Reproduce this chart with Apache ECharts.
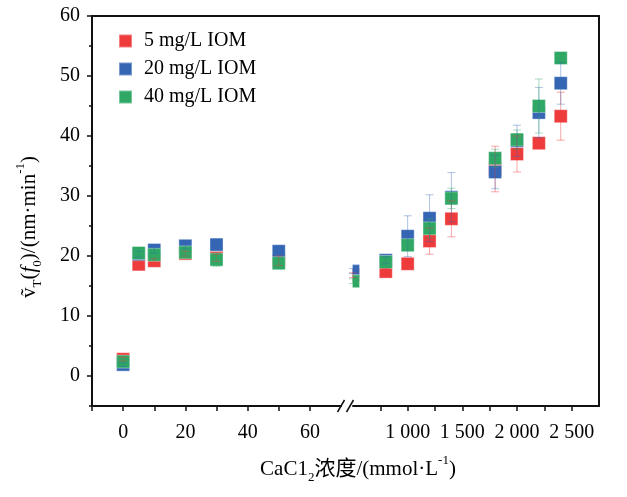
<!DOCTYPE html>
<html>
<head>
<meta charset="utf-8">
<script src="https://cdn.jsdelivr.net/npm/echarts@6.0.0/dist/echarts.min.js"></script>
<style>
  html, body { margin: 0; padding: 0; background: #fff; }
  #chart { width: 627px; height: 497px; }
</style>
</head>
<body>
<div id="chart"></div>
<script>
  // CaCl2 浓度 (mmol/L)，小于 100 的点画在左段，其余画在右段
  const concentration = [0, 5, 10, 20, 30, 50, 500, 800, 1000, 1200, 1400, 1800, 2000, 2200, 2400];
  const seriesNames = ["5 mg/L IOM", "20 mg/L IOM", "40 mg/L IOM"];

  // 速率 (nm/min)
  const rate5 = [2.8, 18.6, 19.2, 20.4, 19.7, 19.2, 16.8, 17.4, 18.7, 22.5, 26.2, 34.5, 37.0, 38.8, 43.3];
  const rate20 = [1.9, 20.3, 21.0, 21.7, 21.9, 20.8, 17.5, 19.3, 23.3, 26.3, 29.8, 34.0, 39.2, 43.9, 48.8];
  const rate40 = [2.4, 20.5, 20.2, 20.6, 19.4, 18.8, 15.8, 19.0, 21.8, 24.6, 29.6, 36.3, 39.4, 45.0, 53.0];

  // 误差 (±)
  const err5 = [0.3, 0.5, 0.4, 0.4, 0.6, 0.8, 0.4, 0.5, 0.5, 2.2, 3.0, 3.8, 3.0, 0.6, 4.0];
  const err20 = [0.3, 0.5, 0.5, 0.5, 0.4, 0.5, 0.4, 0.6, 3.4, 3.9, 4.1, 2.8, 2.6, 4.2, 3.5];
  const err40 = [0.3, 0.4, 0.5, 0.5, 1.1, 0.9, 0.4, 0.6, 0.8, 1.6, 1.7, 1.5, 1.6, 4.5, 0.6];

  // 刻度
  const yLabels = [0, 10, 20, 30, 40, 50, 60];
  const leftTicks = [-10, 0, 10, 20, 30, 40, 50, 60];
  const leftLabels = [0, 20, 40, 60];
  const rightTicks = [750, 1000, 1250, 1500, 1750, 2000, 2250, 2500];
  const rightLabels = [1000, 1500, 2000, 2500];

  const splitValue = 100;
  const colors = ["#EE3B3C", "#3466B4", "#30A865"];
  const errColors = ["rgba(238,59,60,0.45)", "rgba(52,102,180,0.4)", "rgba(48,168,101,0.4)"];
  const fontFamily = "'Liberation Serif', 'Noto Sans CJK SC', serif";

  const rates = [rate5, rate20, rate40];
  const errs = [err5, err20, err40];

  const richStyle = {
    t: { fontSize: 21, lineHeight: 30, verticalAlign: "middle", fontFamily: fontFamily, color: "#000" },
    i: { fontSize: 21, lineHeight: 30, verticalAlign: "middle", fontStyle: "italic", fontFamily: fontFamily, color: "#000" },
    sub: { fontSize: 13, lineHeight: 13, verticalAlign: "bottom", fontFamily: fontFamily, color: "#000" },
    sup: { fontSize: 13, lineHeight: 13, verticalAlign: "top", fontFamily: fontFamily, color: "#000" },
  };

  function fmtThousand(v) {
    return String(v).replace(/(\d)(\d{3})$/, "$1 $2");
  }

  function pointsOf(k, left) {
    const out = [];
    concentration.forEach((c, i) => {
      if ((c < splitValue) === left) out.push([c, rates[k][i], errs[k][i]]);
    });
    return out;
  }

  function errorRender(color) {
    return function (params, api) {
      const x = api.value(0), y = api.value(1), e = api.value(2);
      const top = api.coord([x, y + e]);
      const bot = api.coord([x, y - e]);
      const hw = 4;
      const st = { stroke: color, lineWidth: 1 };
      return {
        type: "group",
        children: [
          { type: "line", shape: { x1: top[0], y1: top[1], x2: bot[0], y2: bot[1] }, style: st },
          { type: "line", shape: { x1: top[0] - hw, y1: top[1], x2: top[0] + hw, y2: top[1] }, style: st },
          { type: "line", shape: { x1: bot[0] - hw, y1: bot[1], x2: bot[0] + hw, y2: bot[1] }, style: st },
        ],
      };
    };
  }

  const axisLineStyle = { color: "#111", width: 2 };
  const labelStyle = { color: "#000", fontSize: 20, fontFamily: fontFamily };

  const series = [];
  [0, 1, 2].forEach((k) => {
    [true, false].forEach((left) => {
      const pts = pointsOf(k, left);
      const minX = left ? -10 : 500;
      series.push({
        name: seriesNames[k],
        type: "scatter",
        xAxisIndex: left ? 2 : 3,
        yAxisIndex: left ? 3 : 4,
        symbol: "rect",
        symbolSize: 13,
        z: 2,
        itemStyle: { color: colors[k], borderColor: "rgba(255,255,255,0.35)", borderWidth: 1, opacity: 1 },
        data: pts.map((p) =>
          p[0] === minX
            ? { value: [p[0], p[1]], symbolSize: [7, 13], symbolOffset: [3, 0] }
            : [p[0], p[1]]
        ),
      });
    });
  });
  [0, 1, 2].forEach((k) => {
    [true, false].forEach((left) => {
      series.push({
        type: "custom",
        xAxisIndex: left ? 2 : 3,
        yAxisIndex: left ? 3 : 4,
        z: 3,
        silent: true,
        renderItem: errorRender(errColors[k]),
        data: pointsOf(k, left),
      });
    });
  });

  const chart = echarts.init(document.getElementById("chart"));
  const option = {
    backgroundColor: "#fff",
    animation: false,
    legend: {
      data: seriesNames,
      orient: "vertical",
      left: 113,
      top: 26,
      icon: "rect",
      itemWidth: 13,
      itemHeight: 13,
      itemGap: 8,
      textStyle: { color: "#000", fontSize: 20, fontFamily: fontFamily, padding: [0, 0, 0, 7] },
    },
    grid: [
      { left: 92, right: 28, top: 16, bottom: 91 }, // 外框
      { left: 92, width: 249, top: 16, bottom: 91 }, // 左段
      { left: 353, right: 28, top: 16, bottom: 91 }, // 右段
    ],
    xAxis: [
      {
        gridIndex: 0, type: "value", position: "top", min: 0, max: 1,
        axisLine: { onZero: false, lineStyle: axisLineStyle }, axisTick: { show: false },
        axisLabel: { show: false }, splitLine: { show: false },
      },
      {
        gridIndex: 0, type: "value", position: "bottom", min: 0, max: 1,
        axisLine: { show: false, onZero: false }, axisTick: { show: false },
        axisLabel: { show: false }, splitLine: { show: false },
        name: "{t|CaC1}{sub|2}{t|浓度/(mmol·L}{sup|-1}{t|)}",
        nameLocation: "middle",
        nameGap: 48,
        nameTextStyle: { rich: richStyle, padding: [0, 0, 0, 25] },
      },
      {
        gridIndex: 1, type: "value", min: -10, max: 70, interval: 10,
        axisLine: { onZero: false, lineStyle: axisLineStyle },
        axisTick: { customValues: leftTicks, length: 5, lineStyle: { color: "#111", width: 1.5 } },
        axisLabel: { customValues: leftLabels, margin: 17, ...labelStyle },
        splitLine: { show: false },
      },
      {
        gridIndex: 2, type: "value", min: 500, max: 2750, interval: 250,
        axisLine: { onZero: false, lineStyle: axisLineStyle },
        axisTick: { customValues: rightTicks, length: 5, lineStyle: { color: "#111", width: 1.5 } },
        axisLabel: { customValues: rightLabels, margin: 17, formatter: fmtThousand, ...labelStyle },
        splitLine: { show: false },
      },
    ],
    yAxis: [
      {
        gridIndex: 0, type: "value", position: "left", min: -5, max: 60, interval: 5,
        axisLine: { show: true, onZero: false, lineStyle: axisLineStyle },
        axisTick: { show: true, length: 3, lineStyle: { color: "#111", width: 1.5 } },
        axisLabel: { customValues: yLabels, margin: 12, ...labelStyle },
        splitLine: { show: false },
        name: "{t|ṽ}{sub|T}{t|(}{i|f}{sub|0}{t|)/(nm·min}{sup|-1}{t|)}",
        nameLocation: "middle",
        nameGap: 48,
        nameRotate: 90,
        nameTextStyle: { rich: richStyle, padding: [0, 32, 0, 0] },
      },
      {
        gridIndex: 0, type: "value", position: "left", min: -5, max: 60, interval: 5,
        axisLine: { show: false, onZero: false },
        axisTick: { show: true, customValues: yLabels, length: 5, lineStyle: { color: "#111", width: 1.5 } },
        axisLabel: { show: false }, splitLine: { show: false },
      },
      {
        gridIndex: 0, type: "value", position: "right", min: -5, max: 60,
        axisLine: { show: true, onZero: false, lineStyle: axisLineStyle },
        axisTick: { show: false }, axisLabel: { show: false }, splitLine: { show: false },
      },
      { gridIndex: 1, type: "value", min: -5, max: 60, show: false },
      { gridIndex: 2, type: "value", min: -5, max: 60, show: false },
    ],
    series: series,
  };
  chart.setOption(option);

  // 断轴符号 "//"
  const xL = chart.convertToPixel({ xAxisIndex: 2 }, 70);
  const xR = chart.convertToPixel({ xAxisIndex: 3 }, 500);
  const yB = chart.convertToPixel({ yAxisIndex: 3 }, -5);
  const slash = (cx) => ({
    type: "line",
    shape: { x1: cx - 3.5, y1: yB + 6, x2: cx + 3.5, y2: yB - 6 },
    style: { stroke: "#111", lineWidth: 1.5 },
    z: 10,
  });
  chart.setOption({ graphic: [slash(xL), slash(xR - 3)] });
</script>
</body>
</html>
